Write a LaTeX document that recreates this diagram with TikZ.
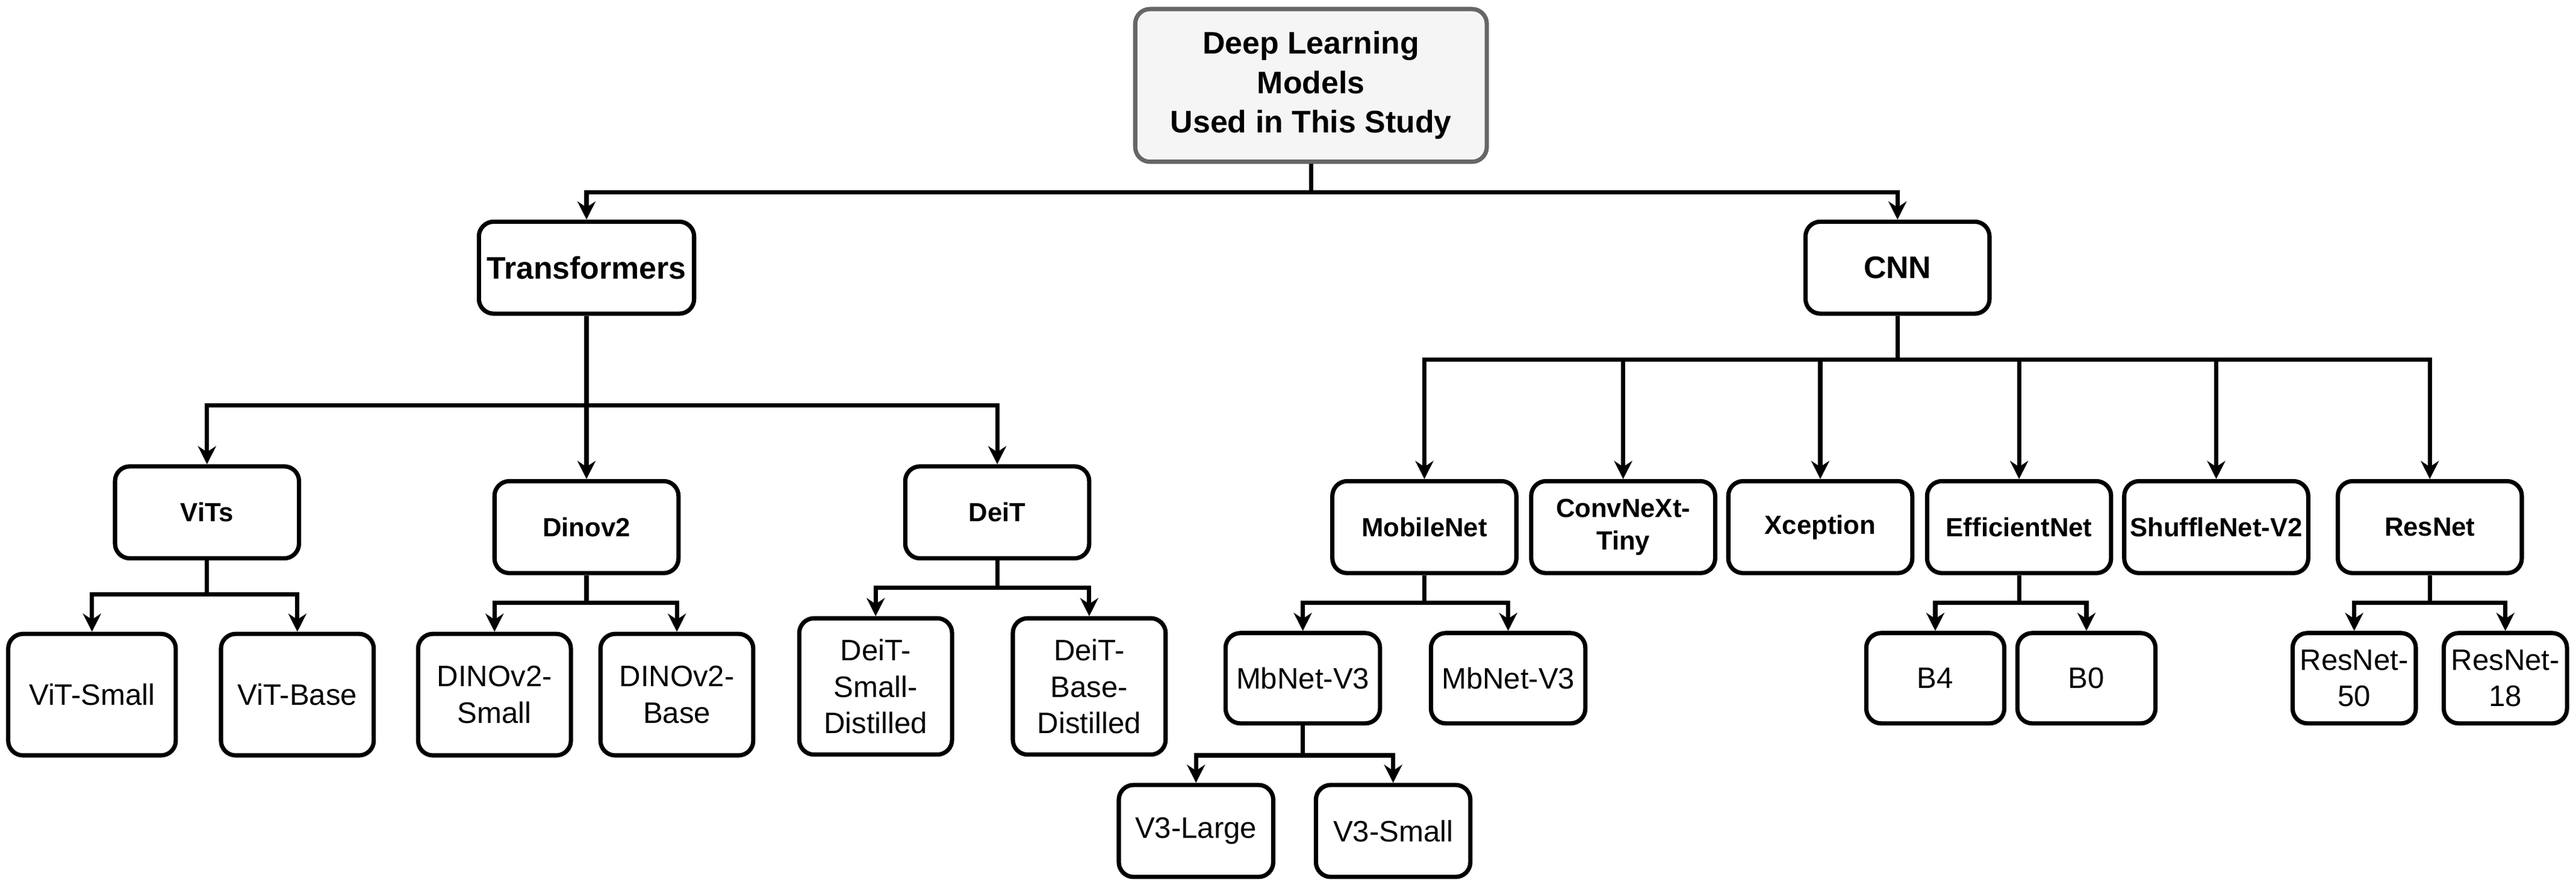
\documentclass[tikz,border=0pt]{standalone}
\usepackage{fontspec}
\setmainfont{Liberation Sans}
\usetikzlibrary{arrows.meta}
\begin{document}
\begin{tikzpicture}[x=1pt,y=-1pt,
 box/.style={draw=black,line width=2.6pt,rounded corners=9pt,align=center,inner sep=0pt,font=\fontsize{18}{22}\selectfont},
 bb/.style={box,font=\bfseries\fontsize{16}{20}\selectfont},
 arr/.style={line width=2.6pt,-{Stealth[length=11pt,width=11pt]}}]
\useasboundingbox (0,0) rectangle (1568,541);
\node[box,fill=black!4,draw=black!60,minimum width=214pt,minimum height=93pt,font=\bfseries\fontsize{19}{24}\selectfont] (root) at (798,52) {Deep Learning\\Models\\Used in This Study};
\node[bb,minimum width=131pt,minimum height=56pt,font=\bfseries\fontsize{19}{24}\selectfont] (tr) at (357,163) {Transformers};
\node[bb,minimum width=112pt,minimum height=56pt,font=\bfseries\fontsize{19}{24}\selectfont] (cnn) at (1155,163) {CNN};
\foreach \n/\x/\y/\t in {vits/126/312/ViTs,dino/357/321/Dinov2,deit/607/312/DeiT,mob/867/321/MobileNet,conv/988/321/{ConvNeXt-\\Tiny},xce/1108/321/Xception,eff/1229/321/EfficientNet,shu/1349/321/ShuffleNet-V2,res/1479/321/ResNet}
 \node[bb,minimum width=112pt,minimum height=56pt] (\n) at (\x,\y) {\t};
\node[box,minimum width=102pt,minimum height=74pt] (vs) at (56,423) {ViT-Small};
\node[box,minimum width=93pt,minimum height=74pt] (vb) at (181,423) {ViT-Base};
\node[box,minimum width=93pt,minimum height=74pt] (ds) at (301,423) {DINOv2-\\Small};
\node[box,minimum width=93pt,minimum height=74pt] (db) at (412,423) {DINOv2-\\Base};
\node[box,minimum width=93pt,minimum height=83pt] (es) at (533,418) {DeiT-\\Small-\\Distilled};
\node[box,minimum width=93pt,minimum height=83pt] (eb) at (663,418) {DeiT-\\Base-\\Distilled};
\node[box,minimum width=94pt,minimum height=55pt] (m1) at (793,413) {MbNet-V3};
\node[box,minimum width=94pt,minimum height=55pt] (m2) at (918,413) {MbNet-V3};
\node[box,minimum width=94pt,minimum height=56pt] (vl) at (728,506) {V3-Large};
\node[box,minimum width=94pt,minimum height=56pt] (vsm) at (848,506) {V3-Small};
\node[box,minimum width=84pt,minimum height=55pt] (b4) at (1178,413) {B4};
\node[box,minimum width=84pt,minimum height=55pt] (b0) at (1270,413) {B0};
\node[box,minimum width=75pt,minimum height=55pt] (r50) at (1433,413) {ResNet-\\50};
\node[box,minimum width=75pt,minimum height=55pt] (r18) at (1525,413) {ResNet-\\18};
\foreach \p/\c/\Y in {root/tr/117,root/cnn/117,tr/vits/247,tr/dino/247,tr/deit/247,
 cnn/mob/219,cnn/conv/219,cnn/xce/219,cnn/eff/219,cnn/shu/219,cnn/res/219,
 vits/vs/362,vits/vb/362,dino/ds/367,dino/db/367,deit/es/358,deit/eb/358,
 mob/m1/367,mob/m2/367,m1/vl/460,m1/vsm/460,eff/b4/367,eff/b0/367,res/r50/367,res/r18/367}
 \draw[arr] (\p.south) -- (\p.south |- 0,\Y) -| (\c.north);
\end{tikzpicture}
\end{document}
